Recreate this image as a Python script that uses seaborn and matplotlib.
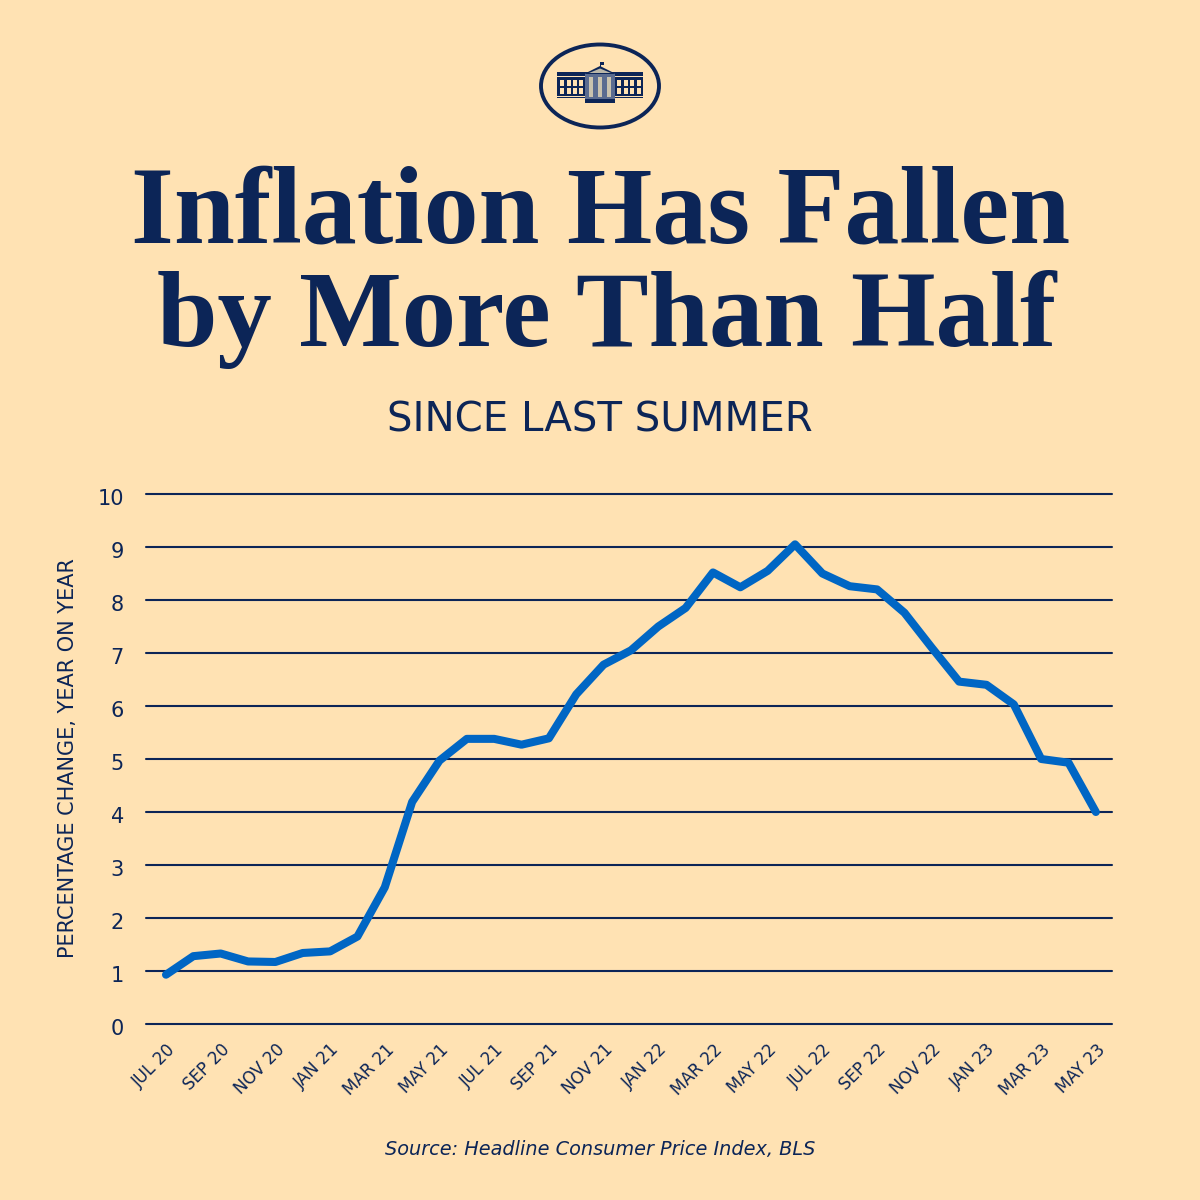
import seaborn as sns
import pandas as pd
import matplotlib.pyplot as plt
from matplotlib.patches import Ellipse, Rectangle, Polygon
from matplotlib.transforms import ScaledTranslation

bg = "#FFE2B3"
navy = "#0C2557"
blue = "#0066C4"

months = ["JUL 20", "AUG 20", "SEP 20", "OCT 20", "NOV 20", "DEC 20", "JAN 21", "FEB 21", "MAR 21",
          "APR 21", "MAY 21", "JUN 21", "JUL 21", "AUG 21", "SEP 21", "OCT 21", "NOV 21", "DEC 21",
          "JAN 22", "FEB 22", "MAR 22", "APR 22", "MAY 22", "JUN 22", "JUL 22", "AUG 22", "SEP 22",
          "OCT 22", "NOV 22", "DEC 22", "JAN 23", "FEB 23", "MAR 23", "APR 23", "MAY 23"]
cpi = [0.93, 1.28, 1.33, 1.18, 1.17, 1.34, 1.37, 1.65, 2.58, 4.19, 4.97, 5.38, 5.38, 5.27, 5.39,
       6.22, 6.78, 7.05, 7.5, 7.85, 8.52, 8.24, 8.55, 9.05, 8.5, 8.26, 8.2, 7.76, 7.1, 6.46,
       6.4, 6.03, 5.0, 4.93, 4.0]
y_ticks = [0, 1, 2, 3, 4, 5, 6, 7, 8, 9, 10]

df = pd.DataFrame({"pos": range(len(months)), "month": months, "cpi": cpi})

sns.set_theme(style="white", rc={"figure.facecolor": bg, "axes.facecolor": bg})
plt.rcParams["font.family"] = ["DejaVu Sans"]

fig = plt.figure(figsize=(12, 12), dpi=100, facecolor=bg)
ax = fig.add_axes([146 / 1200, 1 - 1024 / 1200, 966 / 1200, 530 / 1200])

sns.lineplot(data=df, x="pos", y="cpi", color=blue, linewidth=5.8, ax=ax, zorder=3,
             solid_joinstyle="round", solid_capstyle="round")

ax.set_xlim(-0.731, 34.59)
ax.set_ylim(0, 10)
for v in y_ticks:
    ax.axhline(v, color=navy, lw=1.5, zorder=1, clip_on=False)
for s in ax.spines.values():
    s.set_visible(False)

ax.set_yticks(y_ticks)
ax.set_yticklabels([str(v) for v in y_ticks], fontsize=15, color=navy, ha="right")
ax.tick_params(axis="y", length=0, pad=16)
ax.set_xticks(df["pos"][::2])
ax.set_xticklabels(df["month"][::2], rotation=45, ha="right", rotation_mode="anchor",
                   fontsize=12, color=navy)
ax.tick_params(axis="x", length=0, pad=12)
# nudge y tick labels the way they sit in the original
for lab in ax.get_yticklabels():
    lab.set_transform(lab.get_transform() + ScaledTranslation(0, -3 / 100, fig.dpi_scale_trans))
ax.set_xlabel("")
ax.set_ylabel("")

# text in figure pixels
def px(x, y):
    return x / 1200, 1 - y / 1200

fig.text(*px(68, 758), "PERCENTAGE CHANGE, YEAR ON YEAR", rotation=90, ha="center", va="center",
         fontsize=15, color=navy)
fig.text(*px(601, 243), "Inflation Has Fallen", ha="center", va="baseline", fontsize=79,
         fontweight="bold", family="Liberation Serif", color=navy)
fig.text(*px(607, 346), "by More Than Half", ha="center", va="baseline", fontsize=78.3,
         fontweight="bold", family="Liberation Serif", color=navy)
fig.text(*px(600, 431), "SINCE LAST SUMMER", ha="center", va="baseline", fontsize=29, color=navy)
fig.text(*px(600, 1155), "Source: Headline Consumer Price Index, BLS", ha="center", va="baseline",
         fontsize=13.9, style="italic", color=navy)

# white house logo, pixel coordinates
logo = fig.add_axes([0, 0, 1, 1], facecolor="none")
logo.set_xlim(0, 1200)
logo.set_ylim(1200, 0)
logo.axis("off")
logo.add_patch(Ellipse((600, 86), 118, 83, fill=False, edgecolor=navy, lw=2.8))
logo.add_patch(Rectangle((557, 72), 86, 26, color=navy, lw=0))
logo.add_patch(Rectangle((557, 76), 86, 1.2, color=bg, lw=0))
logo.add_patch(Rectangle((585, 73), 30, 30, color="#5A6C90", lw=0))
logo.add_patch(Polygon([(584, 74), (600, 66), (616, 74)], color=navy, lw=0))
logo.add_patch(Polygon([(589, 73), (600, 68.5), (611, 73)], color="#B9B6A8", lw=0))
logo.add_patch(Rectangle((599.5, 62), 1, 5, color=navy, lw=0))
logo.add_patch(Rectangle((600, 62), 3.5, 2.5, color=navy, lw=0))
for wx in [560, 566.5, 573, 579, 617, 623.5, 630, 636.5]:
    for wy in [80, 88]:
        logo.add_patch(Rectangle((wx, wy), 4, 5.5, color=bg, lw=0))
for wx in [589, 598, 607]:
    logo.add_patch(Rectangle((wx, 77), 4, 20, color="#C9C3AE", lw=0))
logo.add_patch(Rectangle((557, 95.5), 28, 1.2, color=bg, lw=0))
logo.add_patch(Rectangle((615, 95.5), 28, 1.2, color=bg, lw=0))
logo.add_patch(Rectangle((585, 99), 30, 3.5, color=navy, lw=0))

fig.savefig("out.png", dpi=100, facecolor=bg)
